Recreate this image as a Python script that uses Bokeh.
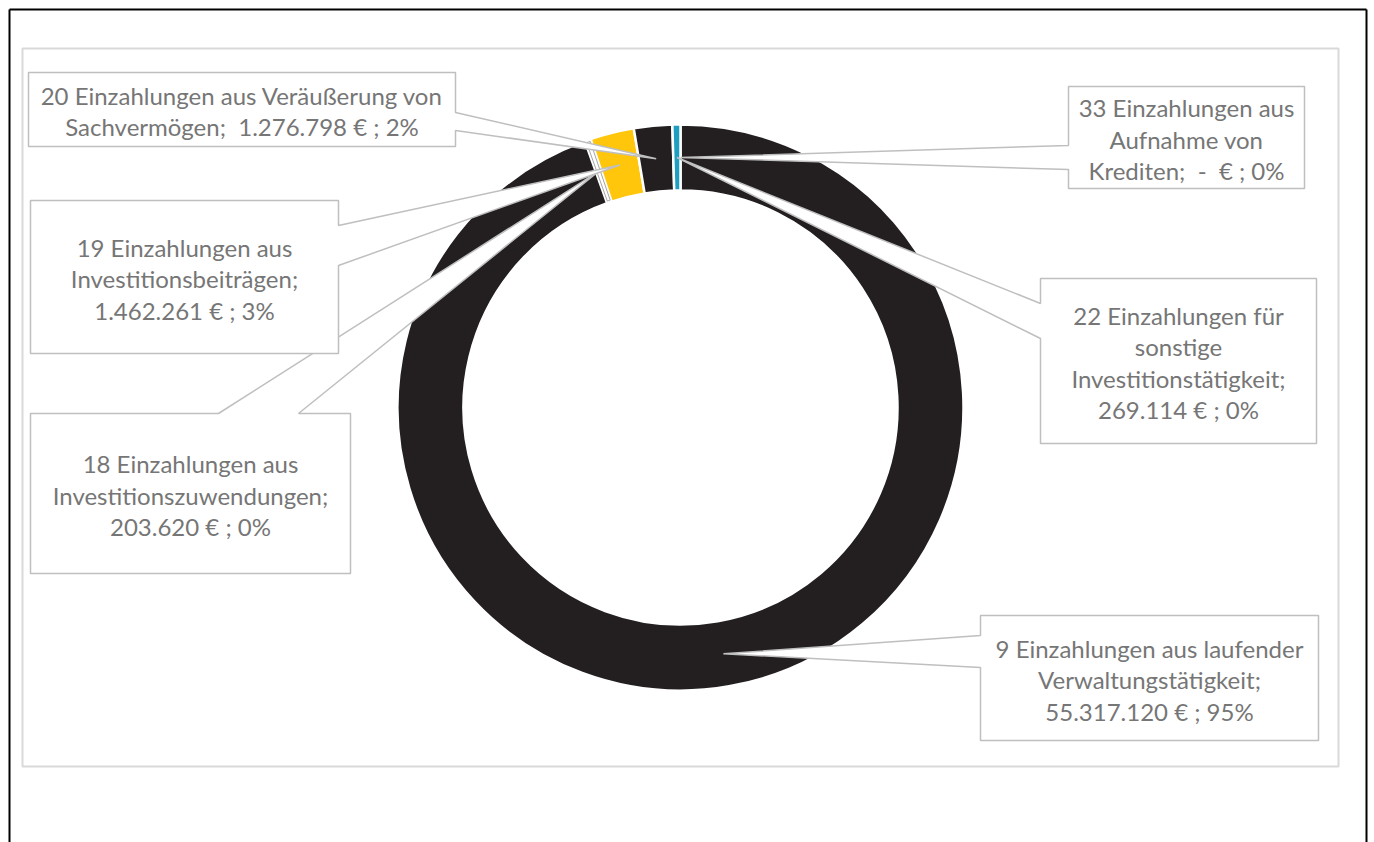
import math
from bokeh.plotting import figure
from bokeh.models import Range1d
from bokeh.core.properties import value
from bokeh.embed import file_html
from bokeh.resources import INLINE

# ---------------- data ----------------
codes = ["9", "18", "19", "20", "22", "33"]
names = [
    "Einzahlungen aus laufender Verwaltungstätigkeit",
    "Einzahlungen aus Investitionszuwendungen",
    "Einzahlungen aus Investitionsbeiträgen",
    "Einzahlungen aus Veräußerung von Sachvermögen",
    "Einzahlungen für sonstige Investitionstätigkeit",
    "Einzahlungen aus Aufnahme von Krediten",
]
amounts = [55317120, 203620, 1462261, 1276798, 269114, 0]
amount_labels = ["55.317.120 €", "203.620 €", "1.462.261 €", "1.276.798 €", "269.114 €", "-\u00a0\u00a0€"]
percent_labels = ["95%", "0%", "3%", "2%", "0%", "0%"]
label_lines = [
    ["9 Einzahlungen aus laufender", "Verwaltungstätigkeit;", "55.317.120 € ; 95%"],
    ["18 Einzahlungen aus", "Investitionszuwendungen;", "203.620 € ; 0%"],
    ["19 Einzahlungen aus", "Investitionsbeiträgen;", "1.462.261 € ; 3%"],
    ["20 Einzahlungen aus Veräußerung von", "Sachvermögen;\u00a0 1.276.798 € ; 2%"],
    ["22 Einzahlungen für", "sonstige", "Investitionstätigkeit;", "269.114 € ; 0%"],
    ["33 Einzahlungen aus", "Aufnahme von", "Krediten;\u00a0 -\u00a0\u00a0€ ; 0%"],
]
colors = ["#231F20", "#FFFFFF", "#FFC60B", "#231F20", "#1E9FBF", "#7F7F7F"]

# ---------------- layout (page pixels) ----------------
W, H = 1374, 842
def X(px): return px
def Y(py): return H - py

cx, cy = X(680), Y(407)
r_out, r_in = 283, 217
r_mid = (r_out + r_in) / 2

boxes = {
    "9":  ((980, 615, 1318, 740), "left", (635, 667)),
    "18": ((30, 413, 350, 573), "top", (218, 298)),
    "19": ((30, 200, 338, 353), "right", (225, 265)),
    "20": ((28, 72, 455, 146), "right", (112, 130)),
    "22": ((1040, 278, 1316, 443), "left", (303, 338)),
    "33": ((1068, 86, 1304, 188), "left", (145, 169)),
}

p = figure(width=W, height=H, x_range=Range1d(0, W), y_range=Range1d(0, H),
           x_axis_type=None, y_axis_type=None, toolbar_location=None,
           output_backend="svg", min_border=0)
p.outline_line_color = None
p.grid.visible = False
p.background_fill_color = "white"
p.border_fill_color = "white"

# outer black frame (left, top, right) and inner grey frame
p.segment(x0=[X(9), X(9), X(1366)], y0=[Y(845), Y(9), Y(9)],
          x1=[X(9), X(1366), X(1366)], y1=[Y(9), Y(9), Y(845)],
          line_color="black", line_width=2)
p.quad(left=[X(22)], right=[X(1338)], top=[Y(48)], bottom=[Y(766)],
       fill_color=None, line_color="#D9D9D9", line_width=2)

# ---------------- donut ----------------
total = float(sum(amounts))
cum = 0.0
starts, ends, mids = [], [], []
for a in amounts:
    f0 = cum / total
    cum += a
    f1 = cum / total
    starts.append(math.pi / 2 - 2 * math.pi * f0)
    ends.append(math.pi / 2 - 2 * math.pi * f1)
    mids.append(math.pi / 2 - 2 * math.pi * (f0 + f1) / 2)

idx_main = [i for i in range(len(amounts)) if amounts[i] > 0 and colors[i] != "#FFFFFF"]
idx_white = [i for i in range(len(amounts)) if amounts[i] > 0 and colors[i] == "#FFFFFF"]

p.annular_wedge(x=[cx] * len(idx_main), y=[cy] * len(idx_main),
                inner_radius=r_in, outer_radius=r_out,
                start_angle=[starts[i] for i in idx_main], end_angle=[ends[i] for i in idx_main],
                direction="clock", fill_color=[colors[i] for i in idx_main],
                line_color="white", line_width=2.5)
if idx_white:
    p.annular_wedge(x=[cx] * len(idx_white), y=[cy] * len(idx_white),
                    inner_radius=r_in + 2, outer_radius=r_out - 2,
                    start_angle=[starts[i] - 0.004 for i in idx_white],
                    end_angle=[ends[i] + 0.004 for i in idx_white],
                    direction="clock", fill_color="white",
                    line_color="#A6A6A6", line_width=1)

# ---------------- callouts ----------------
xs, ys = [], []
tx, ty, tt = [], [], []
order = ["18", "19", "20", "33", "22", "9"]
for code in order:
    i = codes.index(code)
    (x0, y0, x1, y1), side, (b0, b1) = boxes[code]
    tipx = cx + r_mid * math.cos(mids[i])
    tipy = cy + r_mid * math.sin(mids[i])
    L, R, T, B = X(x0), X(x1), Y(y0), Y(y1)
    if side == "right":
        pts = [(L, T), (R, T), (R, Y(b0)), (tipx, tipy), (R, Y(b1)), (R, B), (L, B)]
    elif side == "left":
        pts = [(L, T), (R, T), (R, B), (L, B), (L, Y(b1)), (tipx, tipy), (L, Y(b0))]
    else:  # top
        pts = [(L, T), (X(b0), T), (tipx, tipy), (X(b1), T), (R, T), (R, B), (L, B)]
    xs.append([q[0] for q in pts])
    ys.append([q[1] for q in pts])
    lines = label_lines[i]
    mx = (L + R) / 2
    my = (T + B) / 2 - 1.5
    n = len(lines)
    for k, s in enumerate(lines):
        tx.append(mx)
        ty.append(my + (n - 1) / 2 * 31.5 - k * 31.5)
        tt.append(s)

p.patches(xs=xs, ys=ys, fill_color="white", line_color="#BFBFBF", line_width=1.5)
p.text(x=tx, y=ty, text=tt, text_font=value("Lato"), text_font_size="24px",
       text_color="#767676", text_align="center", text_baseline="middle")

open("out.html", "w").write(file_html(p, INLINE))
